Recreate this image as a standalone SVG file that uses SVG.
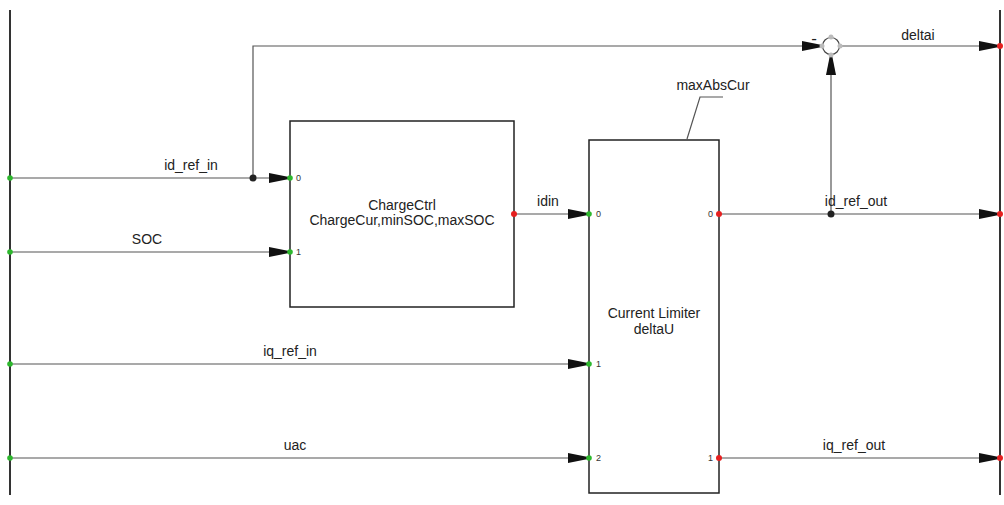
<svg xmlns="http://www.w3.org/2000/svg" width="1004" height="505" viewBox="0 0 1004 505">
<style>
.bar{stroke:#333;stroke-width:2;fill:none}
.box{stroke:#222;stroke-width:1.5;fill:#fff}
.w{stroke:#555;stroke-width:1.2;fill:none}
.t{font-family:"Liberation Sans",Arial,sans-serif;font-size:14px;fill:#222}
.p{font-family:"Liberation Sans",Arial,sans-serif;font-size:9px;fill:#333}
.in{fill:#2db82d}
.out{fill:#e62020}
.dot{fill:#222}
.g{fill:#bbb}
</style>
<defs>
<marker id="ar" viewBox="0 0 20 10" refX="20" refY="5" markerWidth="20" markerHeight="10" markerUnits="userSpaceOnUse" orient="auto">
<path d="M0,0 L20,4 L20,6 L0,10 Z" fill="#111"/>
</marker>
</defs>
<g id="bars">
<line class="bar" x1="10" y1="10" x2="10" y2="495"/>
<line class="bar" x1="1000" y1="10" x2="1000" y2="495"/>
</g>
<g id="connectors">
<line class="w" x1="10" y1="178" x2="289" y2="178" marker-end="url(#ar)"/>
<polyline class="w" points="253,178 253,46 822,46" marker-end="url(#ar)"/>
<line class="w" x1="10" y1="252" x2="289" y2="252" marker-end="url(#ar)"/>
<line class="w" x1="514" y1="214" x2="588" y2="214" marker-end="url(#ar)"/>
<line class="w" x1="10" y1="364" x2="588" y2="364" marker-end="url(#ar)"/>
<line class="w" x1="10" y1="458" x2="588" y2="458" marker-end="url(#ar)"/>
<line class="w" x1="719" y1="214" x2="999" y2="214" marker-end="url(#ar)"/>
<line class="w" x1="831" y1="214" x2="831" y2="55" marker-end="url(#ar)"/>
<line class="w" x1="840" y1="46" x2="999" y2="46" marker-end="url(#ar)"/>
<line class="w" x1="719" y1="458" x2="999" y2="458" marker-end="url(#ar)"/>
<circle class="dot" cx="253" cy="178" r="3.5"/>
<circle class="dot" cx="831" cy="214" r="3.5"/>
<text class="t" x="191" y="170" text-anchor="middle">id_ref_in</text>
<text class="t" x="147" y="244" text-anchor="middle">SOC</text>
<text class="t" x="548" y="206" text-anchor="middle">idin</text>
<text class="t" x="290" y="356" text-anchor="middle">iq_ref_in</text>
<text class="t" x="295" y="450" text-anchor="middle">uac</text>
<text class="t" x="856" y="206" text-anchor="middle">id_ref_out</text>
<text class="t" x="918" y="40" text-anchor="middle">deltai</text>
<text class="t" x="854" y="450" text-anchor="middle">iq_ref_out</text>
</g>
<g id="summer">
<circle cx="831" cy="46" r="8.5" fill="#fff" stroke="#444" stroke-width="1.2"/>
<circle class="g" cx="831" cy="37" r="2.5"/>
<circle class="g" cx="840" cy="46" r="2.5"/>
<circle class="g" cx="822" cy="46" r="2.5"/>
<circle class="g" cx="831" cy="55" r="2.5"/>
<text class="t" x="814" y="44" text-anchor="middle" style="font-size:17px">-</text>
</g>
<g id="chargectrl">
<rect class="box" x="290" y="121" width="224" height="186"/>
<text class="t" x="402" y="210" text-anchor="middle">ChargeCtrl</text>
<text class="t" x="402" y="225" text-anchor="middle">ChargeCur,minSOC,maxSOC</text>
<circle class="in" cx="290" cy="178" r="2.8"/>
<circle class="in" cx="290" cy="252" r="2.8"/>
<circle class="out" cx="514" cy="214" r="3"/>
<text class="p" x="296" y="181">0</text>
<text class="p" x="296" y="255">1</text>
</g>
<g id="currentlimiter">
<rect class="box" x="589" y="140" width="130" height="353"/>
<text class="t" x="654" y="318" text-anchor="middle">Current Limiter</text>
<text class="t" x="654" y="334" text-anchor="middle">deltaU</text>
<circle class="in" cx="589" cy="214" r="2.8"/>
<circle class="in" cx="589" cy="364" r="2.8"/>
<circle class="in" cx="589" cy="458" r="2.8"/>
<circle class="out" cx="719" cy="214" r="3"/>
<circle class="out" cx="719" cy="458" r="3"/>
<text class="p" x="596" y="217">0</text>
<text class="p" x="596" y="367">1</text>
<text class="p" x="596" y="461">2</text>
<text class="p" x="713" y="217" text-anchor="end">0</text>
<text class="p" x="713" y="461" text-anchor="end">1</text>
<polyline class="w" points="687,139 700,97 723,97" stroke="#333"/>
<text class="t" x="713" y="90" text-anchor="middle">maxAbsCur</text>
</g>
<g id="outports">
<circle class="out" cx="1000" cy="46" r="3"/>
<circle class="out" cx="1000" cy="214" r="3"/>
<circle class="out" cx="1000" cy="458" r="3"/>
<circle class="in" cx="10" cy="178" r="2.8"/>
<circle class="in" cx="10" cy="252" r="2.8"/>
<circle class="in" cx="10" cy="364" r="2.8"/>
<circle class="in" cx="10" cy="458" r="2.8"/>
</g>
</svg>
